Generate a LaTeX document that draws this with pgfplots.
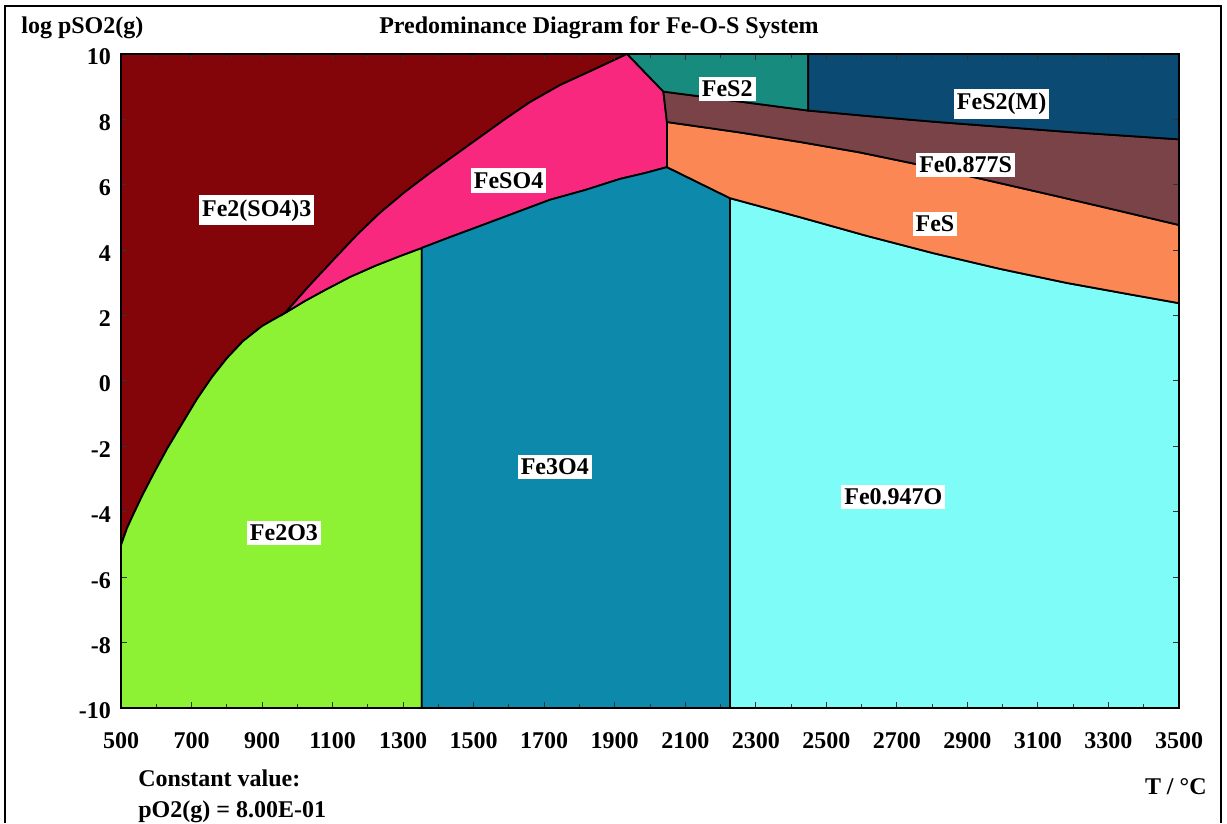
\documentclass[border=0pt]{standalone}
\usepackage{fontspec}
\setmainfont{Liberation Serif}
\usepackage{pgfplots}
\pgfplotsset{compat=1.18}

\definecolor{fesulf}{HTML}{830409}
\definecolor{hematite}{HTML}{8DF134}
\definecolor{feso}{HTML}{F8287F}
\definecolor{magnetite}{HTML}{0D89AC}
\definecolor{wustite}{HTML}{7EFCF8}
\definecolor{fes}{HTML}{FB8754}
\definecolor{pyrrh}{HTML}{7A4347}
\definecolor{pyrite}{HTML}{168B7E}
\definecolor{pyritem}{HTML}{0B4A73}

\newcommand{\lbl}{\fontsize{12}{14.5}\selectfont\bfseries}

\begin{document}
\begin{tikzpicture}
% page = 1227 x 823 px, 1 px = 0.5pt, axis origin at px (121,708)
\begin{scope}[shift={(-60.5pt,354pt)}, x=0.5pt, y=-0.5pt]
\useasboundingbox (0,0) rectangle (1227,823);
\end{scope}

\begin{axis}[
  at={(0,0)}, anchor=south west,
  width=529pt, height=327pt, scale only axis,
  xmin=500, xmax=3500, ymin=-10, ymax=10,
  axis on top,
  axis line style={line width=1pt},
  xtick={500,700,...,3500},
  xticklabels={500,700,900,1100,1300,1500,1700,1900,2100,2300,2500,2700,2900,3100,3300,3500},
  ytick={-10,-8,...,10},
  yticklabels={-10,-8,-6,-4,-2,0,2,4,6,8,10},
  minor x tick num=1,
  tick align=inside,
  major tick length=3pt, minor tick length=2pt,
  tick style={black!80, line width=0.5pt},
  ticklabel style={font=\lbl},
  xticklabel style={anchor=center, yshift=-16.5pt},
  yticklabel style={xshift=-1.5pt, yshift=-1.5pt},
]

% Fe2(SO4)3
\addplot[fill=fesulf, draw=black, line width=0.9pt] coordinates {
  (500,10) (500,-5.02) (517,-4.50) (534,-4.10) (559.5,-3.52) (593.6,-2.81) (630.4,-2.08)
  (673,-1.31) (715.5,-0.55) (758,0.12) (800.5,0.70) (846,1.22) (900,1.68) (965,2.08)
  (1036,2.94) (1107,3.76) (1172,4.50) (1234,5.14) (1305,5.78) (1376,6.36) (1447,6.91)
  (1518,7.46) (1589,8.01) (1660,8.53) (1745,9.05) (1844,9.54) (1935,10)
} -- cycle;

% Fe2O3
\addplot[fill=hematite, draw=black, line width=0.9pt] coordinates {
  (500,-10) (500,-5.02) (517,-4.50) (534,-4.10) (559.5,-3.52) (593.6,-2.81) (630.4,-2.08)
  (673,-1.31) (715.5,-0.55) (758,0.12) (800.5,0.70) (846,1.22) (900,1.68) (965,2.08)
  (1022,2.45) (1078,2.78) (1149,3.18) (1220,3.52) (1291,3.82) (1353,4.07) (1353,-10)
} -- cycle;

% FeSO4
\addplot[fill=feso, draw=black, line width=0.9pt] coordinates {
  (965,2.08) (1036,2.94) (1107,3.76) (1172,4.50) (1234,5.14) (1305,5.78) (1376,6.36) (1447,6.91)
  (1518,7.46) (1589,8.01) (1660,8.53) (1745,9.05) (1844,9.54) (1935,10)
  (2038,8.85) (2048,7.92) (2048,6.54)
  (1986,6.36) (1915,6.18) (1816,5.84) (1716,5.54) (1617,5.14) (1518,4.74) (1433,4.40) (1353,4.07)
  (1291,3.82) (1220,3.52) (1149,3.18) (1078,2.78) (1022,2.45)
} -- cycle;

% Fe3O4
\addplot[fill=magnetite, draw=black, line width=0.9pt] coordinates {
  (1353,-10) (1353,4.07) (1433,4.40) (1518,4.74) (1617,5.14) (1716,5.54) (1816,5.84)
  (1915,6.18) (1986,6.36) (2048,6.54) (2227,5.59) (2227,-10)
} -- cycle;

% Fe0.947O
\addplot[fill=wustite, draw=black, line width=0.9pt] coordinates {
  (2227,-10) (2227,5.59) (2425,5.01) (2614,4.44) (2803,3.91) (2992,3.43)
  (3181,3.00) (3370,2.63) (3500,2.38) (3500,-10)
} -- cycle;

% FeS
\addplot[fill=fes, draw=black, line width=0.9pt] coordinates {
  (2048,6.54) (2048,7.92) (2255,7.60) (2425,7.31) (2595,6.99) (2765,6.61) (2964,6.12)
  (3162,5.63) (3332,5.20) (3500,4.77)
  (3500,2.38) (3370,2.63) (3181,3.00) (2992,3.43) (2803,3.91) (2614,4.44) (2425,5.01) (2227,5.59)
} -- cycle;

% Fe0.877S
\addplot[fill=pyrrh, draw=black, line width=0.9pt] coordinates {
  (2038,8.85) (2048,7.92) (2255,7.60) (2425,7.31) (2595,6.99) (2765,6.61) (2964,6.12)
  (3162,5.63) (3332,5.20) (3500,4.77)
  (3500,7.39) (3181,7.62) (2803,7.93) (2620,8.10) (2449,8.27)
} -- cycle;

% FeS2
\addplot[fill=pyrite, draw=black, line width=0.9pt] coordinates {
  (1935,10) (2038,8.85) (2449,8.27) (2449,10)
} -- cycle;

% FeS2(M)
\addplot[fill=pyritem, draw=black, line width=0.9pt] coordinates {
  (2449,10) (2449,8.27) (2620,8.10) (2803,7.93) (3181,7.62) (3500,7.39) (3500,10)
} -- cycle;

\tikzset{phase/.style={fill=white, inner xsep=1.5pt, inner ysep=2pt, font=\lbl}}
\node[phase] at (axis cs:885,5.22)   {Fe2(SO4)3};
\node[phase] at (axis cs:1599,6.13)  {FeSO4};
\node[phase] at (axis cs:2219,8.93)  {FeS2};
\node[phase] at (axis cs:2997,8.47)  {FeS2(M)};
\node[phase] at (axis cs:2895,6.61)  {Fe0.877S};
\node[phase] at (axis cs:2808,4.80)  {FeS};
\node[phase] at (axis cs:1730,-2.63) {Fe3O4};
\node[phase] at (axis cs:962,-4.65)  {Fe2O3};
\node[phase] at (axis cs:2690,-3.54) {Fe0.947O};

\end{axis}

\begin{scope}[shift={(-60.5pt,354pt)}, x=0.5pt, y=-0.5pt]
\draw[line width=0.8pt] (5,823) -- (5,6) -- (1221,6) -- (1221,823);
\node[anchor=west, inner sep=0pt, font=\lbl] at (21,28) {log pSO2(g)};
\node[font=\lbl] at (599,28) {Predominance Diagram for Fe-O-S System};
\node[anchor=west, inner sep=0pt, font=\lbl] at (138,778) {Constant value:};
\node[anchor=west, inner sep=0pt, font=\lbl] at (138,812) {pO2(g) = 8.00E-01};
\node[anchor=east, inner sep=0pt, font=\lbl] at (1207,787) {T / °C};
\end{scope}
\end{tikzpicture}
\end{document}
